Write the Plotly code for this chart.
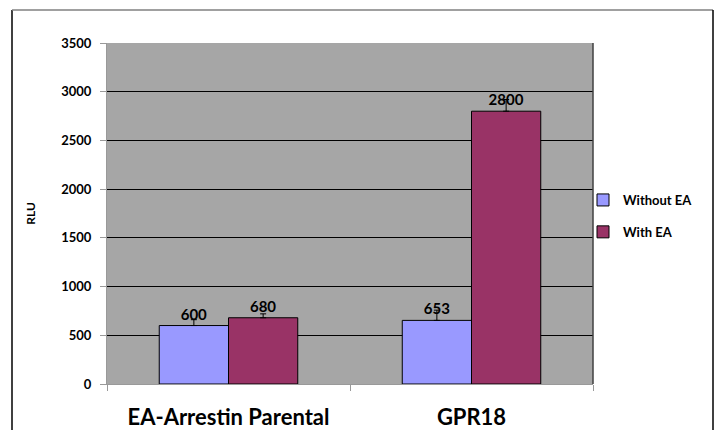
import plotly.graph_objects as go

categories = ["EA-Arrestin Parental", "GPR18"]
without_ea = [600, 653]
with_ea = [680, 2800]
without_err = [60, 105]
with_err = [40, 120]
y_ticks = [0, 500, 1000, 1500, 2000, 2500, 3000, 3500]

FONT = "Lato"

fig = go.Figure()
fig.add_trace(go.Bar(
    name="<b>Without EA</b>", x=categories, y=without_ea,
    marker=dict(color="#9999FF", line=dict(color="black", width=1)),
    error_y=dict(type="data", array=without_err, arrayminus=[0, 0], symmetric=False,
                 color="black", thickness=1, width=3),
    texttemplate="<b>%{y}</b>", textposition="outside", cliponaxis=False,
    textfont=dict(family=FONT, size=15, color="black"),
    legendgroup="a",
))
fig.add_trace(go.Bar(
    name="<b>With EA</b>", x=categories, y=with_ea,
    marker=dict(color="#993366", line=dict(color="black", width=1)),
    error_y=dict(type="data", array=with_err, arrayminus=[0, 0], symmetric=False,
                 color="black", thickness=1, width=3),
    texttemplate="<b>%{y}</b>", textposition="outside", cliponaxis=False,
    textfont=dict(family=FONT, size=15, color="black"),
    legendgroup="b",
))

L, R, T, B = 107, 124, 43, 46
W, H = 717, 430
pw, ph = W - L - R, H - T - B

def px(xp):
    return (xp - L) / pw

def py(yp):
    return (H - B - yp) / ph

shapes = [
    dict(type="line", xref="paper", yref="paper", x0=px(12), x1=px(12), y0=py(10), y1=py(440),
         line=dict(color="black", width=1.5)),
    dict(type="line", xref="paper", yref="paper", x0=px(12), x1=px(713), y0=py(10), y1=py(10),
         line=dict(color="#808080", width=1.5)),
    dict(type="line", xref="paper", yref="paper", x0=px(713), x1=px(713), y0=py(10), y1=py(440),
         line=dict(color="black", width=1.5)),
    dict(type="line", xref="paper", yref="paper", x0=1, x1=1, y0=0, y1=1,
         line=dict(color="#404040", width=1.5)),
]

fig.update_layout(
    width=W, height=H,
    margin=dict(l=L, r=R, t=T, b=B, autoexpand=False),
    paper_bgcolor="white",
    plot_bgcolor="#A6A6A6",
    barmode="group",
    bargap=0.43,
    bargroupgap=0,
    font=dict(family=FONT, color="black"),
    showlegend=True,
    legend=dict(x=px(583), y=py(216), xanchor="left", yanchor="middle",
                font=dict(family=FONT, size=13, color="black"),
                tracegroupgap=12, bgcolor="rgba(0,0,0,0)"),
    shapes=shapes,
    xaxis=dict(
        automargin=False,
        tickfont=dict(family=FONT, size=22, color="black"),
        tickprefix="<b>", ticksuffix="</b>",
        tickson="boundaries", ticks="outside", ticklen=6, tickcolor="#999999",
        ticklabelstandoff=14,
        showline=True, linecolor="#999999", linewidth=1,
        showgrid=False,
    ),
    yaxis=dict(
        automargin=False,
        range=[0, 3500], tickvals=y_ticks,
        ticktext=[f"<b>{v}</b>" for v in y_ticks],
        tickfont=dict(family=FONT, size=13, color="black"),
        ticks="outside", ticklen=6, tickcolor="#999999",
        ticklabelstandoff=6,
        showline=True, linecolor="#999999", linewidth=1,
        showgrid=True, gridcolor="black", gridwidth=1,
        zeroline=False,
        title=dict(text="<b>RLU</b>", font=dict(family=FONT, size=12, color="black"), standoff=23),
    ),
)

fig.write_html("out.html", config={"displayModeBar": False},
               post_script="document.body.style.margin='0';document.body.style.overflow='hidden';")
